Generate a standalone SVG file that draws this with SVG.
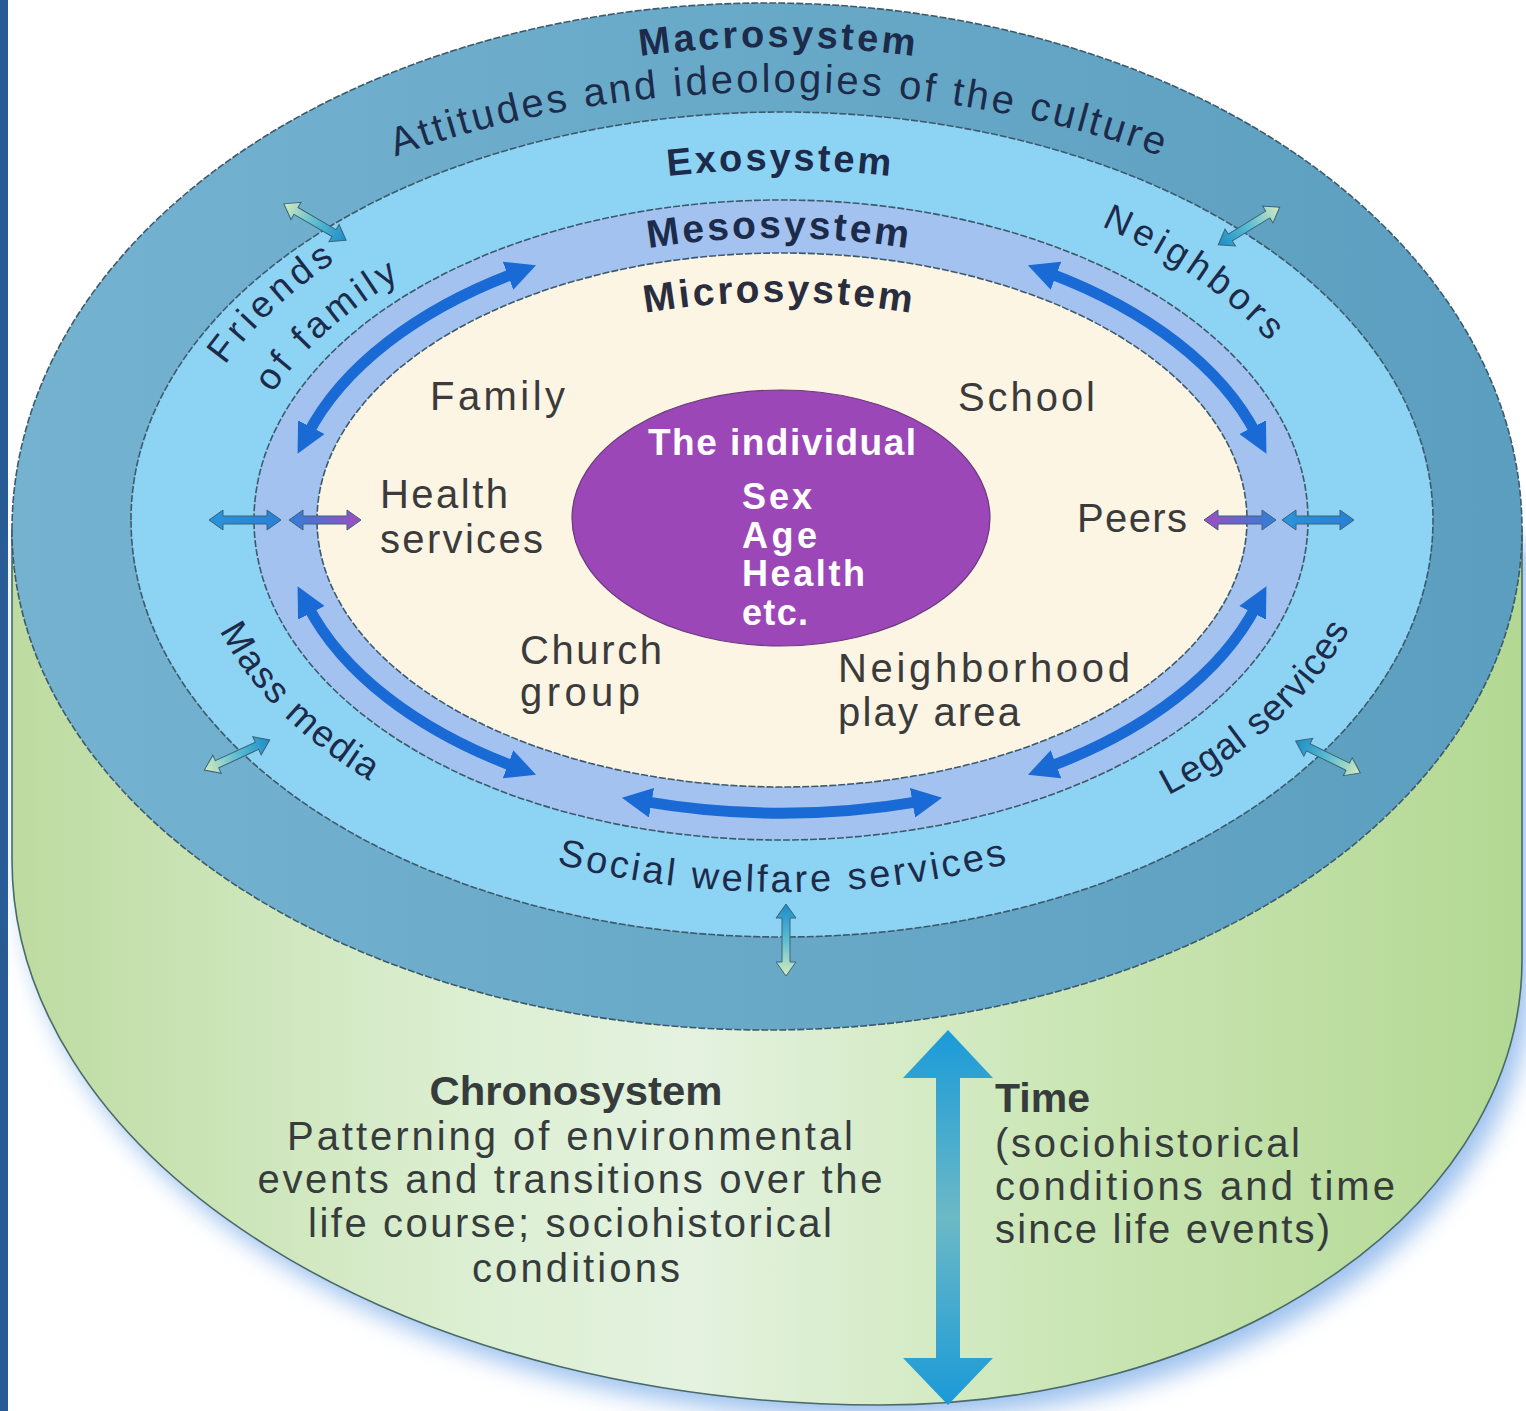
<svg xmlns="http://www.w3.org/2000/svg" width="1526" height="1411" viewBox="0 0 1526 1411">
<defs>
<style>
.ring{stroke:#3d5a6c;stroke-width:1.6;stroke-dasharray:7 2}
.lbl{font-family:"Liberation Sans",Arial,sans-serif;fill:#1d2b4b}
.b{font-weight:bold}
.micro{font-family:"Liberation Sans",Arial,sans-serif;font-size:40px;fill:#3b3b3b}
.ind{font-family:"Liberation Sans",Arial,sans-serif;font-weight:bold;fill:#ffffff}
.chrono{font-family:"Liberation Sans",Arial,sans-serif;font-size:40px;fill:#363c3c}
.ma{fill:none;stroke:#1a6ad6;stroke-width:11;marker-start:url(#ah);marker-end:url(#ah)}
.sm{stroke:#3a6478;stroke-width:1}
</style>
<marker id="ah" viewBox="0 0 30 30" markerWidth="30" markerHeight="30" refX="8" refY="15" orient="auto-start-reverse" markerUnits="userSpaceOnUse">
<path d="M0,0 L30,15 L0,30 Z" fill="#1a6ad6"/>
</marker>
<linearGradient id="gGreen" x1="0" y1="0" x2="1" y2="0">
<stop offset="0" stop-color="#bddba0"/>
<stop offset="0.3" stop-color="#dcefd2"/>
<stop offset="0.45" stop-color="#e4f2df"/>
<stop offset="0.7" stop-color="#cbe6b5"/>
<stop offset="1" stop-color="#b3d893"/>
</linearGradient>
<linearGradient id="gMacro" x1="0" y1="0" x2="1" y2="0">
<stop offset="0" stop-color="#74b2d0"/>
<stop offset="0.5" stop-color="#68a9c8"/>
<stop offset="1" stop-color="#5c9ebf"/>
</linearGradient>
<linearGradient id="gTP" x1="0" y1="0" x2="1" y2="0">
<stop offset="0" stop-color="#1a8cc8"/>
<stop offset="0.5" stop-color="#5dbdd2"/>
<stop offset="1" stop-color="#d6ebbd"/>
</linearGradient>
<linearGradient id="gB" x1="0" y1="0" x2="1" y2="0">
<stop offset="0" stop-color="#2a93da"/>
<stop offset="1" stop-color="#2a7fd6"/>
</linearGradient>
<linearGradient id="gBP" x1="0" y1="0" x2="1" y2="0">
<stop offset="0" stop-color="#2f7fd8"/>
<stop offset="1" stop-color="#a24cc0"/>
</linearGradient>
<linearGradient id="gPB" x1="0" y1="0" x2="1" y2="0">
<stop offset="0" stop-color="#a24cc0"/>
<stop offset="1" stop-color="#2f7fd8"/>
</linearGradient>
<linearGradient id="gTime" x1="0" y1="0" x2="0" y2="1">
<stop offset="0" stop-color="#1a9ad8"/>
<stop offset="0.5" stop-color="#6cb9c6"/>
<stop offset="1" stop-color="#1a9ad8"/>
</linearGradient>
<filter id="blur" x="-10%" y="-10%" width="120%" height="120%">
<feGaussianBlur stdDeviation="12"/>
</filter>
<path id="dbl" d="M-36,0 L-22,-10 L-22,-4 L22,-4 L22,-10 L36,0 L22,10 L22,4 L-22,4 L-22,10 Z"/>
<path id="pMacro" d="M109.8,371.4 A710 493 0 0 1 1444.2,371.4"/>
<path id="pAtt" d="M82.6,386.8 A740 448 0 0 1 1473.4,386.8"/>
<path id="pExo" d="M215.2,400.3 A600 350 0 0 1 1342.8,400.3"/>
<path id="pMeso" d="M326.9,420.3 A480 277 0 0 1 1229.1,420.3"/>
<path id="pMicro" d="M383.3,442.2 A420 213 0 0 1 1172.7,442.2"/>
<path id="pFriends" d="M173.5,493.5 A610 380 0 0 1 514.6,178.5"/>
<path id="pOfFam" d="M233.0,499.6 A550 335 0 0 1 536.6,220.2"/>
<path id="pNeigh" d="M927.5,175.2 A562 357 0 0 1 1324.9,427.6"/>
<path id="pMass" d="M192.4,532.7 A590 365 0 0 0 505.0,842.3"/>
<path id="pLegal" d="M1042.8,845.4 A595 362 0 0 0 1375.6,545.3"/>
<path id="pSocial" d="M364.8,783.0 A590 372 0 0 0 1199.2,783.0"/>
</defs>

<rect x="0" y="0" width="1526" height="1411" fill="#ffffff"/>
<rect x="0" y="0" width="8" height="1411" fill="#285b94"/>

<g id="chronosystem">
<path d="M12,530 L12,860 A868 545 0 0 0 880,1405 A642 445 0 0 0 1522,960 L1522,530 Z" fill="#4d8fe0" opacity="0.55" transform="translate(10,14)" filter="url(#blur)"/>
<path d="M12,530 L12,860 A868 545 0 0 0 880,1405 A642 445 0 0 0 1522,960 L1522,530 Z" fill="url(#gGreen)" stroke="#4a6a6a" stroke-width="1.6"/>
<text class="chrono b" x="576" y="1105" text-anchor="middle" font-size="38" textLength="293" lengthAdjust="spacingAndGlyphs">Chronosystem</text>
<text class="chrono" x="570" y="1150" text-anchor="middle" textLength="566">Patterning of environmental</text>
<text class="chrono" x="570" y="1193" text-anchor="middle" textLength="625">events and transitions over the</text>
<text class="chrono" x="570" y="1237" text-anchor="middle" textLength="524">life course; sociohistorical</text>
<text class="chrono" x="576" y="1282" text-anchor="middle" textLength="208">conditions</text>
<text class="chrono b" x="995" y="1112" font-size="38" textLength="95" lengthAdjust="spacingAndGlyphs">Time</text>
<text class="chrono" x="995" y="1157" textLength="305">(sociohistorical</text>
<text class="chrono" x="995" y="1200" textLength="400">conditions and time</text>
<text class="chrono" x="995" y="1243" textLength="335">since life events)</text>
</g>

<g id="macrosystem">
<path class="ring" d="M12,530 A755 527 0 0 1 1522,530 A755 500 0 0 1 12,530 Z" fill="url(#gMacro)"/>
<text class="lbl b" font-size="38"><textPath href="#pMacro" startOffset="50%" text-anchor="middle" textLength="275" lengthAdjust="spacing">Macrosystem</textPath></text>
<text class="lbl" font-size="40"><textPath href="#pAtt" startOffset="50%" text-anchor="middle" textLength="780" lengthAdjust="spacing">Attitudes and ideologies of the culture</textPath></text>
</g>

<g id="exosystem">
<path class="ring" d="M131,520 A651 408 0 0 1 1433,520 A651 417 0 0 1 131,520 Z" fill="#8dd3f3"/>
<text class="lbl b" font-size="38"><textPath href="#pExo" startOffset="50%" text-anchor="middle" textLength="223" lengthAdjust="spacing">Exosystem</textPath></text>
<text class="lbl" font-size="37"><textPath href="#pFriends" startOffset="44%" text-anchor="middle" textLength="152" lengthAdjust="spacing">Friends</textPath></text>
<text class="lbl" font-size="37"><textPath href="#pOfFam" startOffset="46%" text-anchor="middle" textLength="172" lengthAdjust="spacing">of family</textPath></text>
<text class="lbl" font-size="37"><textPath href="#pNeigh" startOffset="58%" text-anchor="middle" textLength="205" lengthAdjust="spacing">Neighbors</textPath></text>
<text class="lbl" font-size="37"><textPath href="#pMass" startOffset="45%" text-anchor="middle" textLength="215" lengthAdjust="spacing">Mass media</textPath></text>
<text class="lbl" font-size="37"><textPath href="#pLegal" startOffset="55%" text-anchor="middle" textLength="250" lengthAdjust="spacing">Legal services</textPath></text>
<text class="lbl" font-size="38"><textPath href="#pSocial" startOffset="50%" text-anchor="middle" textLength="455" lengthAdjust="spacing">Social welfare services</textPath></text>
</g>

<g id="mesosystem">
<ellipse class="ring" cx="781" cy="520" rx="527" ry="320" fill="#a3c2f0"/>
<text class="lbl b" font-size="39"><textPath href="#pMeso" startOffset="50%" text-anchor="middle" textLength="260" lengthAdjust="spacing">Mesosystem</textPath></text>
</g>

<g id="microsystem">
<ellipse class="ring" cx="782" cy="520" rx="465" ry="267" fill="#fdf5e3"/>
<text class="lbl b" font-size="39" style="fill:#2a2d3d"><textPath href="#pMicro" startOffset="50%" text-anchor="middle" textLength="267" lengthAdjust="spacing">Microsystem</textPath></text>
<text class="micro" x="430" y="410" textLength="135">Family</text>
<text class="micro" x="958" y="411" textLength="137">School</text>
<text class="micro" x="380" y="508" textLength="128">Health</text>
<text class="micro" x="380" y="553" textLength="163">services</text>
<text class="micro" x="1077" y="532" textLength="110">Peers</text>
<text class="micro" x="520" y="664" textLength="142">Church</text>
<text class="micro" x="520" y="706" textLength="120">group</text>
<text class="micro" x="838" y="682" textLength="292">Neighborhood</text>
<text class="micro" x="838" y="726" textLength="182">play area</text>
</g>

<g id="individual">
<ellipse cx="781" cy="518" rx="209" ry="128" fill="#9c47b8" stroke="#6a3a7a" stroke-width="1.2"/>
<text class="ind" x="648" y="455" font-size="37" textLength="268">The individual</text>
<text class="ind" x="742" y="509" font-size="36" textLength="70">Sex</text>
<text class="ind" x="742" y="548" font-size="36" textLength="75">Age</text>
<text class="ind" x="742" y="586" font-size="36" textLength="123">Health</text>
<text class="ind" x="742" y="625" font-size="36" textLength="66">etc.</text>
</g>

<g id="connectors">
<path class="ma" d="M307.7,434.3 A496 293 0 0 1 515.5,272.9"/>
<path class="ma" d="M1048.5,272.9 A496 293 0 0 1 1256.3,434.3"/>
<path class="ma" d="M307.7,605.7 A496 293 0 0 0 515.5,767.1"/>
<path class="ma" d="M643.6,801.4 A496 293 0 0 0 920.4,801.4"/>
<path class="ma" d="M1048.5,767.1 A496 293 0 0 0 1256.3,605.7"/>

<use href="#dbl" class="sm" fill="url(#gTP)" transform="translate(315,222) rotate(-149.7)"/>
<use href="#dbl" class="sm" fill="url(#gTP)" transform="translate(1249,226) rotate(-31.5)"/>
<use href="#dbl" class="sm" fill="url(#gTP)" transform="translate(237,755) rotate(155.2)"/>
<use href="#dbl" class="sm" fill="url(#gTP)" transform="translate(1328,757) rotate(26.2)"/>
<use href="#dbl" class="sm" fill="url(#gTP)" transform="translate(786,940) rotate(90)"/>

<use href="#dbl" class="sm" fill="url(#gB)" transform="translate(245,520)"/>
<use href="#dbl" class="sm" fill="url(#gBP)" transform="translate(325,520)"/>
<use href="#dbl" class="sm" fill="url(#gPB)" transform="translate(1240,520)"/>
<use href="#dbl" class="sm" fill="url(#gB)" transform="translate(1318,520)"/>

<path d="M948,1030 L993,1078 L960,1078 L960,1358 L993,1358 L948,1405 L903,1358 L936,1358 L936,1078 L903,1078 Z" fill="url(#gTime)"/>
</g>
</svg>
